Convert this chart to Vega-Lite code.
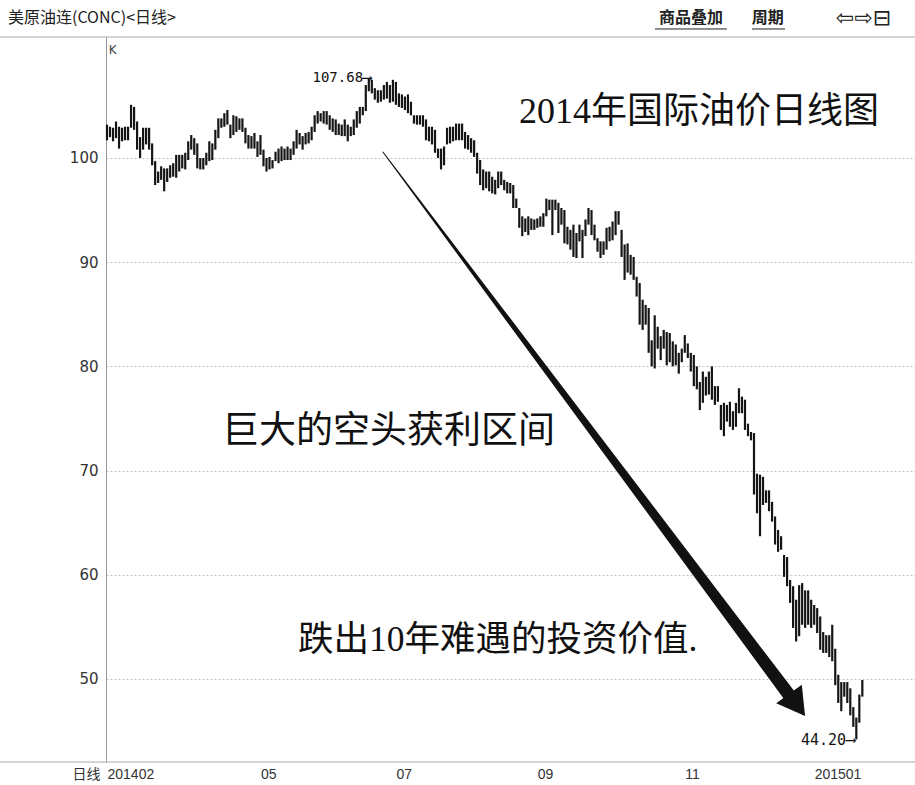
{
  "$schema": "https://vega.github.io/schema/vega-lite/v6.json",
  "width": 809,
  "height": 725,
  "autosize": "none",
  "padding": {"left": 106, "top": 37, "right": 0, "bottom": 23},
  "background": "white",
  "config": {"view": {"stroke": null}},
  "data": {"values": [{}]},
  "datasets": {
    "k": [
      {"i":0,"h":103.2,"l":101.7},{"i":1,"h":103.0,"l":102.0},{"i":2,"h":102.9,"l":101.6},{"i":3,"h":103.5,"l":101.9},{"i":4,"h":103.0,"l":100.9},
      {"i":5,"h":102.9,"l":101.6},{"i":6,"h":103.0,"l":101.7},{"i":7,"h":103.0,"l":101.7},{"i":8,"h":105.1,"l":102.9},{"i":9,"h":104.9,"l":102.7},
      {"i":10,"h":103.5,"l":100.8},{"i":11,"h":102.0,"l":100.0},{"i":12,"h":102.9,"l":100.8},{"i":13,"h":102.9,"l":101.3},{"i":14,"h":102.9,"l":100.8},
      {"i":15,"h":101.4,"l":99.3},{"i":16,"h":99.7,"l":97.4},{"i":17,"h":98.7,"l":97.6},{"i":18,"h":99.2,"l":97.9},{"i":19,"h":99.0,"l":96.8},
      {"i":20,"h":99.0,"l":97.7},{"i":21,"h":99.3,"l":98.1},{"i":22,"h":99.5,"l":98.2},{"i":23,"h":100.3,"l":98.1},{"i":24,"h":100.3,"l":98.7},
      {"i":25,"h":100.3,"l":99.0},{"i":26,"h":100.5,"l":98.9},{"i":27,"h":101.6,"l":99.8},{"i":28,"h":102.2,"l":100.8},{"i":29,"h":101.9,"l":100.3},
      {"i":30,"h":101.4,"l":99.0},{"i":31,"h":100.0,"l":98.9},{"i":32,"h":100.0,"l":98.9},{"i":33,"h":100.5,"l":99.3},{"i":34,"h":101.6,"l":99.7},
      {"i":35,"h":101.4,"l":99.8},{"i":36,"h":102.7,"l":100.8},{"i":37,"h":103.8,"l":101.9},{"i":38,"h":103.8,"l":102.9},{"i":39,"h":104.3,"l":103.0},
      {"i":40,"h":104.6,"l":103.2},{"i":41,"h":103.2,"l":101.9},{"i":42,"h":104.1,"l":102.2},{"i":43,"h":104.0,"l":102.5},{"i":44,"h":103.8,"l":102.7},
      {"i":45,"h":103.8,"l":102.5},{"i":46,"h":102.9,"l":101.4},{"i":47,"h":102.2,"l":100.9},{"i":48,"h":102.1,"l":100.9},{"i":49,"h":102.4,"l":100.9},
      {"i":50,"h":101.6,"l":100.1},{"i":51,"h":102.2,"l":100.3},{"i":52,"h":100.8,"l":99.2},{"i":53,"h":100.0,"l":98.7},{"i":54,"h":100.1,"l":98.9},
      {"i":55,"h":99.8,"l":99.0},{"i":56,"h":100.6,"l":99.7},{"i":57,"h":100.9,"l":99.5},{"i":58,"h":101.1,"l":99.7},{"i":59,"h":100.9,"l":99.8},
      {"i":60,"h":101.1,"l":99.8},{"i":61,"h":100.9,"l":99.8},{"i":62,"h":101.6,"l":100.3},{"i":63,"h":102.7,"l":100.9},{"i":64,"h":102.4,"l":101.3},
      {"i":65,"h":102.1,"l":100.8},{"i":66,"h":102.4,"l":101.3},{"i":67,"h":102.5,"l":101.4},{"i":68,"h":103.0,"l":101.7},{"i":69,"h":104.1,"l":102.5},
      {"i":70,"h":104.5,"l":103.3},{"i":71,"h":104.3,"l":103.5},{"i":72,"h":104.5,"l":103.3},{"i":73,"h":104.5,"l":103.2},{"i":74,"h":104.1,"l":102.7},
      {"i":75,"h":103.8,"l":102.5},{"i":76,"h":103.7,"l":102.2},{"i":77,"h":103.3,"l":102.2},{"i":78,"h":103.2,"l":102.1},{"i":79,"h":103.7,"l":102.1},
      {"i":80,"h":103.2,"l":101.6},{"i":81,"h":103.0,"l":102.1},{"i":82,"h":103.7,"l":102.2},{"i":83,"h":104.5,"l":102.9},{"i":84,"h":104.9,"l":103.3},
      {"i":85,"h":104.9,"l":104.1},{"i":86,"h":107.0,"l":104.5},{"i":87,"h":107.68,"l":106.4},{"i":88,"h":107.5,"l":106.2},{"i":89,"h":106.7,"l":105.6},
      {"i":90,"h":106.5,"l":105.3},{"i":91,"h":106.5,"l":105.4},{"i":92,"h":107.0,"l":105.6},{"i":93,"h":107.3,"l":105.7},{"i":94,"h":107.0,"l":105.3},
      {"i":95,"h":107.5,"l":105.4},{"i":96,"h":107.3,"l":105.1},{"i":97,"h":106.2,"l":104.9},{"i":98,"h":106.1,"l":104.8},{"i":99,"h":105.9,"l":104.6},
      {"i":100,"h":106.1,"l":104.3},{"i":101,"h":105.4,"l":104.1},{"i":102,"h":104.1,"l":103.3},{"i":103,"h":104.1,"l":103.2},{"i":104,"h":104.1,"l":103.2},
      {"i":105,"h":104.1,"l":103.0},{"i":106,"h":103.7,"l":101.7},{"i":107,"h":103.0,"l":101.6},{"i":108,"h":103.0,"l":101.3},{"i":109,"h":102.7,"l":100.5},
      {"i":110,"h":100.9,"l":100.0},{"i":111,"h":100.9,"l":98.9},{"i":112,"h":101.1,"l":99.3},{"i":113,"h":102.9,"l":101.3},{"i":114,"h":103.0,"l":101.4},
      {"i":115,"h":103.0,"l":101.6},{"i":116,"h":103.3,"l":101.7},{"i":117,"h":103.3,"l":101.7},{"i":118,"h":103.3,"l":101.7},{"i":119,"h":102.5,"l":100.9},
      {"i":120,"h":102.2,"l":100.8},{"i":121,"h":101.9,"l":100.5},{"i":122,"h":101.7,"l":100.1},{"i":123,"h":100.5,"l":98.5},{"i":124,"h":99.8,"l":97.4},
      {"i":125,"h":98.9,"l":96.9},{"i":126,"h":98.7,"l":97.1},{"i":127,"h":98.7,"l":96.8},{"i":128,"h":98.2,"l":96.6},{"i":129,"h":97.9,"l":96.5},
      {"i":130,"h":98.7,"l":97.1},{"i":131,"h":98.7,"l":97.4},{"i":132,"h":97.9,"l":96.9},{"i":133,"h":97.7,"l":96.6},{"i":134,"h":97.6,"l":96.6},
      {"i":135,"h":97.4,"l":95.2},{"i":136,"h":96.1,"l":95.2},{"i":137,"h":95.2,"l":93.3},{"i":138,"h":94.4,"l":92.5},{"i":139,"h":94.2,"l":92.9},
      {"i":140,"h":94.4,"l":92.6},{"i":141,"h":94.2,"l":93.1},{"i":142,"h":94.1,"l":93.1},{"i":143,"h":94.2,"l":93.3},{"i":144,"h":94.4,"l":93.4},
      {"i":145,"h":94.7,"l":93.4},{"i":146,"h":96.1,"l":94.4},{"i":147,"h":96.0,"l":95.0},{"i":148,"h":96.0,"l":92.6},{"i":149,"h":96.0,"l":95.0},
      {"i":150,"h":95.7,"l":92.8},{"i":151,"h":95.2,"l":93.6},{"i":152,"h":95.0,"l":91.8},{"i":153,"h":93.4,"l":91.7},{"i":154,"h":93.1,"l":91.2},
      {"i":155,"h":93.6,"l":90.5},{"i":156,"h":92.8,"l":90.4},{"i":157,"h":93.6,"l":92.0},{"i":158,"h":93.1,"l":90.4},{"i":159,"h":94.1,"l":92.5},
      {"i":160,"h":95.2,"l":93.6},{"i":161,"h":95.0,"l":92.6},{"i":162,"h":93.6,"l":92.1},{"i":163,"h":92.3,"l":91.0},{"i":164,"h":92.0,"l":90.4},
      {"i":165,"h":92.0,"l":90.7},{"i":166,"h":93.3,"l":91.2},{"i":167,"h":93.4,"l":92.0},{"i":168,"h":93.9,"l":92.1},{"i":169,"h":94.9,"l":92.6},
      {"i":170,"h":94.9,"l":93.6},{"i":171,"h":93.1,"l":90.5},{"i":172,"h":91.7,"l":88.3},{"i":173,"h":91.8,"l":89.0},{"i":174,"h":90.7,"l":88.8},
      {"i":175,"h":90.5,"l":88.3},{"i":176,"h":88.6,"l":86.7},{"i":177,"h":88.0,"l":84.0},{"i":178,"h":86.4,"l":83.5},{"i":179,"h":85.9,"l":84.0},
      {"i":180,"h":85.6,"l":81.3},{"i":181,"h":82.5,"l":80.0},{"i":182,"h":84.9,"l":79.8},{"i":183,"h":83.8,"l":81.7},{"i":184,"h":82.9,"l":80.6},
      {"i":185,"h":83.5,"l":81.7},{"i":186,"h":83.3,"l":80.1},{"i":187,"h":83.2,"l":80.4},{"i":188,"h":82.4,"l":80.0},{"i":189,"h":82.1,"l":80.1},
      {"i":190,"h":81.3,"l":79.3},{"i":191,"h":81.7,"l":80.4},{"i":192,"h":83.0,"l":81.3},{"i":193,"h":82.2,"l":80.8},{"i":194,"h":81.3,"l":79.5},
      {"i":195,"h":81.1,"l":78.1},{"i":196,"h":80.0,"l":77.8},{"i":197,"h":78.5,"l":75.8},{"i":198,"h":79.5,"l":76.5},{"i":199,"h":79.0,"l":77.2},
      {"i":200,"h":79.5,"l":77.3},{"i":201,"h":80.0,"l":76.8},{"i":202,"h":78.1,"l":76.3},{"i":203,"h":78.1,"l":76.6},{"i":204,"h":76.3,"l":73.9},
      {"i":205,"h":76.5,"l":73.3},{"i":206,"h":76.3,"l":74.7},{"i":207,"h":76.6,"l":74.2},{"i":208,"h":75.7,"l":73.9},{"i":209,"h":76.5,"l":74.2},
      {"i":210,"h":77.9,"l":75.5},{"i":211,"h":77.1,"l":75.5},{"i":212,"h":76.8,"l":73.9},{"i":213,"h":74.5,"l":73.3},{"i":214,"h":73.7,"l":72.9},
      {"i":215,"h":73.6,"l":67.7},{"i":216,"h":69.7,"l":65.9},{"i":217,"h":69.6,"l":63.7},{"i":218,"h":69.4,"l":66.7},{"i":219,"h":68.1,"l":66.9},
      {"i":220,"h":68.1,"l":66.1},{"i":221,"h":67.0,"l":65.1},{"i":222,"h":65.6,"l":62.9},{"i":223,"h":64.3,"l":62.2},{"i":224,"h":63.7,"l":62.4},
      {"i":225,"h":61.9,"l":59.8},{"i":226,"h":61.7,"l":58.9},{"i":227,"h":59.5,"l":57.3},{"i":228,"h":58.9,"l":54.9},{"i":229,"h":57.6,"l":53.6},
      {"i":230,"h":59.0,"l":54.1},{"i":231,"h":59.2,"l":55.2},{"i":232,"h":58.5,"l":54.9},{"i":233,"h":58.5,"l":55.2},{"i":234,"h":57.6,"l":54.9},
      {"i":235,"h":57.1,"l":55.2},{"i":236,"h":56.8,"l":54.4},{"i":237,"h":56.0,"l":52.8},{"i":238,"h":54.5,"l":52.5},{"i":239,"h":54.2,"l":52.5},
      {"i":240,"h":54.2,"l":52.1},{"i":241,"h":55.2,"l":51.7},{"i":242,"h":52.9,"l":49.4},{"i":243,"h":50.4,"l":47.7},{"i":244,"h":49.7,"l":46.9},
      {"i":245,"h":49.7,"l":48.3},{"i":246,"h":49.7,"l":47.7},{"i":247,"h":49.1,"l":46.5},{"i":248,"h":47.3,"l":45.4},{"i":249,"h":46.3,"l":44.2},
      {"i":250,"h":48.5,"l":45.8},{"i":251,"h":49.9,"l":48.3}
    ],
    "arrow": [
      {"ax": 91.7, "ay": 100.57, "t": 0},
      {"ax": 227.9, "ay": 47.98, "t": 1}
    ]
  },
  "layer": [
    {
      "data": {"name": "k"},
      "mark": {"type": "rule", "strokeWidth": 2.2, "color": "#151515"},
      "encoding": {
        "x": {
          "field": "i", "type": "quantitative",
          "scale": {"domain": [-0.33, 268.5], "nice": false, "zero": false},
          "axis": {
            "values": [0, 51, 96, 143, 192, 235],
            "labelExpr": "datum.value==0?'201402':datum.value==51?'05':datum.value==96?'07':datum.value==143?'09':datum.value==192?'11':'201501'",
            "labelAlign": "left", "labelBaseline": "top", "labelPadding": 5,
            "labelOverlap": false, "labelFlush": false, "labelBound": false,
            "ticks": false, "grid": false, "domain": false,
            "labelFont": "Liberation Sans", "labelFontSize": 14, "labelColor": "#333",
            "title": "日线", "titleX": -6, "titleY": 12, "titleAlign": "right", "titleBaseline": "middle",
            "titleFont": "Noto Sans CJK SC", "titleFontSize": 14, "titleFontWeight": "normal", "titleColor": "#333"
          }
        },
        "y": {
          "field": "l", "type": "quantitative",
          "scale": {"domain": [42.03, 111.61], "nice": false, "zero": false},
          "axis": {
            "values": [50, 60, 70, 80, 90, 100],
            "ticks": false, "labelPadding": 8,
            "grid": true, "gridColor": "#c4c4c4", "gridDash": [2, 2], "gridWidth": 1,
            "domain": true, "domainColor": "#999",
            "labelFont": "DejaVu Sans", "labelFontSize": 15, "labelColor": "#333",
            "title": null
          }
        },
        "y2": {"field": "h"}
      }
    },
    {
      "mark": {"type": "rule", "color": "#aaa", "strokeWidth": 1},
      "encoding": {"x": {"datum": -35.9}, "x2": {"datum": 268.5}, "y": {"datum": 111.61}}
    },
    {
      "mark": {"type": "rule", "color": "#aaa", "strokeWidth": 1},
      "encoding": {"x": {"datum": -35.9}, "x2": {"datum": 268.5}, "y": {"datum": 42.03}}
    },
    {
      "data": {"name": "arrow"},
      "mark": {"type": "trail", "color": "#111"},
      "encoding": {
        "x": {"field": "ax", "type": "quantitative"},
        "y": {"field": "ay", "type": "quantitative"},
        "order": {"field": "t"},
        "size": {"field": "t", "type": "quantitative", "scale": {"domain": [0, 1], "range": [1, 13]}, "legend": null}
      }
    },
    {
      "mark": {"type": "point", "shape": "triangle-down", "filled": true, "color": "#111", "opacity": 1, "size": 1000, "angle": 324},
      "encoding": {"x": {"datum": 229.3}, "y": {"datum": 47.5}}
    },
    {
      "mark": {"type": "text", "text": "美原油连(CONC)<日线>", "align": "left", "baseline": "middle", "font": "Noto Sans CJK SC", "fontSize": 16, "color": "#222"},
      "encoding": {"x": {"datum": -32.9}, "y": {"datum": 113.43}}
    },
    {
      "mark": {"type": "text", "text": "商品叠加", "align": "center", "baseline": "middle", "font": "Noto Sans CJK SC", "fontSize": 16, "fontWeight": "bold", "color": "#222"},
      "encoding": {"x": {"datum": 194.1}, "y": {"datum": 113.43}}
    },
    {
      "mark": {"type": "text", "text": "周期", "align": "center", "baseline": "middle", "font": "Noto Sans CJK SC", "fontSize": 16, "fontWeight": "bold", "color": "#222"},
      "encoding": {"x": {"datum": 219.6}, "y": {"datum": 113.43}}
    },
    {
      "mark": {"type": "rule", "color": "#222", "strokeWidth": 1},
      "encoding": {"x": {"datum": 182.1}, "x2": {"datum": 206.0}, "y": {"datum": 112.38}}
    },
    {
      "mark": {"type": "rule", "color": "#222", "strokeWidth": 1},
      "encoding": {"x": {"datum": 214.3}, "x2": {"datum": 225.3}, "y": {"datum": 112.38}}
    },
    {
      "mark": {"type": "text", "text": "⇦⇨⊟", "align": "left", "baseline": "middle", "font": "DejaVu Sans", "fontSize": 22, "color": "#222"},
      "encoding": {"x": {"datum": 242.2}, "y": {"datum": 113.43}}
    },
    {
      "mark": {"type": "text", "text": "K", "align": "left", "baseline": "middle", "font": "DejaVu Sans", "fontSize": 12, "color": "#444"},
      "encoding": {"x": {"datum": 0.6}, "y": {"datum": 110.4}}
    },
    {
      "mark": {"type": "text", "text": "107.68⟶", "align": "right", "baseline": "middle", "font": "DejaVu Sans Mono, DejaVu Sans", "fontSize": 14, "color": "#111"},
      "encoding": {"x": {"datum": 87.9}, "y": {"datum": 107.65}}
    },
    {
      "mark": {"type": "text", "text": "44.20⟶", "align": "right", "baseline": "middle", "font": "DejaVu Sans Mono, DejaVu Sans", "fontSize": 15, "color": "#111"},
      "encoding": {"x": {"datum": 248.6}, "y": {"datum": 44.14}}
    },
    {
      "mark": {"type": "text", "text": "2014年国际油价日线图", "align": "left", "baseline": "middle", "font": "Liberation Serif, Noto Sans CJK SC", "fontSize": 36, "color": "#111"},
      "encoding": {"x": {"datum": 136.9}, "y": {"datum": 104.41}}
    },
    {
      "mark": {"type": "text", "text": "巨大的空头获利区间", "align": "left", "baseline": "middle", "font": "Liberation Serif, Noto Sans CJK SC", "fontSize": 37, "color": "#111"},
      "encoding": {"x": {"datum": 38.2}, "y": {"datum": 73.7}}
    },
    {
      "mark": {"type": "text", "text": "跌出10年难遇的投资价值.", "align": "left", "baseline": "middle", "font": "Liberation Serif, Noto Sans CJK SC", "fontSize": 35.5, "color": "#111"},
      "encoding": {"x": {"datum": 63.5}, "y": {"datum": 53.74}}
    }
  ]
}
